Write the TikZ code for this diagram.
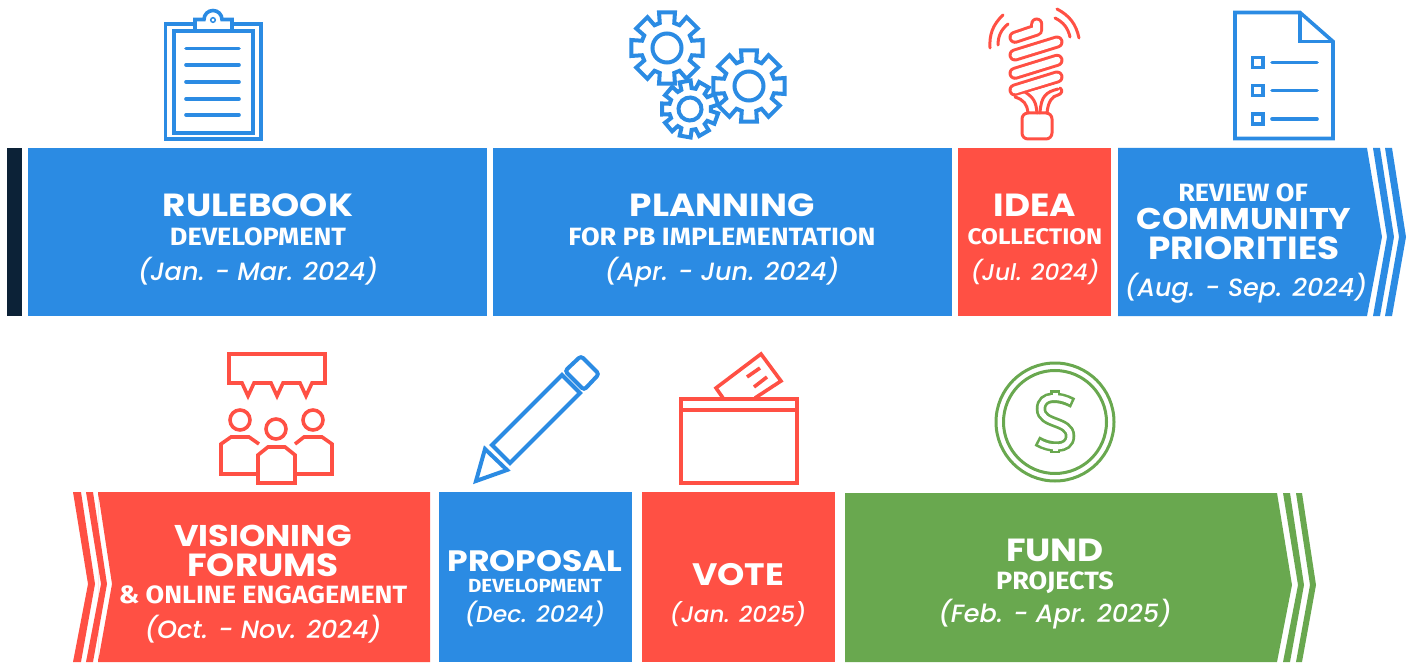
\documentclass[tikz,border=0pt]{standalone}
\usepackage{fontspec}
\setmainfont[FakeStretch=1.12]{Poppins}
\newfontfamily\subfont[FakeStretch=1.08]{Fira Sans}
\newfontfamily\datefont[FakeStretch=1.02]{Poppins Medium Italic}
\definecolor{barBlue}{HTML}{2B8BE3}
\definecolor{barRed}{HTML}{FF5044}
\definecolor{barGreen}{HTML}{69A84F}
\definecolor{barDark}{HTML}{0C2237}
\tikzset{
	titletext/.style = {anchor = base, inner sep = 0, text = white, font = \fontsize{#1}{#1}\selectfont\bfseries},
	titletext/.default = 32,
	subtext/.style = {anchor = base, inner sep = 0, text = white, font = \fontsize{#1}{#1}\selectfont\subfont\bfseries},
	subtext/.default = 25,
	datetext/.style = {anchor = base, inner sep = 0, text = white, font = \fontsize{#1}{#1}\selectfont\datefont},
	datetext/.default = 25,
	iconline/.style = {line width = 3.6pt, miter limit = 10},
	capsule/.style = {line cap = round, line join = round},
}
% one cog, centred on the current origin: #1 teeth, #2 outer, #3 root, #4 hole
\newcommand{\cogicon}[4]{
	\pgfmathsetmacro{\cogStep}{360/#1}
	\pgfmathsetmacro{\cogHalf}{\cogStep*0.36}
	\pgfmathsetmacro{\cogTop}{\cogStep*0.28}
	\filldraw [fill = white] (-\cogHalf:#3)
		\foreach \k in {1,...,#1} {
			-- ({(\k-1)*\cogStep-\cogTop}:#2) -- ({(\k-1)*\cogStep+\cogTop}:#2)
			-- ({(\k-1)*\cogStep+\cogHalf}:#3) -- ({\k*\cogStep-\cogHalf}:#3)
		} -- cycle;
	\draw (0,0) circle (#4);
}
\begin{document}
\begin{tikzpicture}[x = 1pt, y = -1pt]
	\useasboundingbox (0,0) rectangle (1409,663);

	% top row
	\begin{scope}
		\fill [barDark] (7,148) rectangle (22,316);
		\fill [barBlue] (28,148) rectangle (487,316);
		\fill [barBlue] (493,148) rectangle (952,316);
		\fill [barRed] (958,148) rectangle (1111,316);
		\fill [barBlue] (1118,148) -- (1367,148) -- (1382,237) -- (1367,316) -- (1118,316) -- cycle;
		\fill [barBlue] (1373,148) -- (1380,148) -- (1394,237) -- (1380,316) -- (1373,316) -- (1387,237) -- cycle;
		\fill [barBlue] (1385,148) -- (1392,148) -- (1406,237) -- (1392,316) -- (1385,316) -- (1399,237) -- cycle;
	\end{scope}

	% bottom row
	\begin{scope}
		\fill [barRed] (430,492) rectangle (98,662) -- (112,584) -- (98,492) -- cycle;
		\fill [barRed] (86,492) -- (93,492) -- (107,584) -- (93,662) -- (86,662) -- (101,584) -- cycle;
		\fill [barRed] (73,492) -- (81,492) -- (95,584) -- (81,662) -- (73,662) -- (88,584) -- cycle;
		\fill [barBlue] (439,492) rectangle (632,662);
		\fill [barRed] (642,492) rectangle (835,662);
		\fill [barGreen] (845,493) -- (1277,493) -- (1292,585) -- (1277,662) -- (845,662) -- cycle;
		\fill [barGreen] (1283,493) -- (1290,493) -- (1304,585) -- (1290,662) -- (1283,662) -- (1298,585) -- cycle;
		\fill [barGreen] (1296,493) -- (1302,493) -- (1316,585) -- (1302,662) -- (1296,662) -- (1310,585) -- cycle;
	\end{scope}

	\node [titletext] (rulebookTitle) at (258,217) {RULEBOOK};
	\node [subtext] (rulebookSub) at (258,246) {DEVELOPMENT};
	\node [datetext] (rulebookDate) at (258,280) {(Jan. - Mar. 2024)};

	\node [titletext] (planningTitle) at (722,217) {PLANNING};
	\node [subtext] (planningSub) at (722,246) {FOR PB IMPLEMENTATION};
	\node [datetext] (planningDate) at (722,280) {(Apr. - Jun. 2024)};

	\node [titletext] (ideaTitle) at (1035,217) {IDEA};
	\node [subtext = 22.5] (ideaSub) at (1035,245) {COLLECTION};
	\node [datetext = 22.8] (ideaDate) at (1035,280) {(Jul. 2024)};

	\node [subtext] (reviewSub) at (1243,202) {REVIEW OF};
	\node [titletext = 30] (reviewTitleA) at (1244,230) {COMMUNITY};
	\node [titletext] (reviewTitleB) at (1244,260) {PRIORITIES};
	\node [datetext] (reviewDate) at (1246,297) {(Aug. - Sep. 2024)};

	\node [titletext = 30] (forumTitleA) at (263,546) {VISIONING};
	\node [titletext] (forumTitleB) at (263,576) {FORUMS};
	\node [subtext] (forumSub) at (263,603) {\& ONLINE ENGAGEMENT};
	\node [datetext] (forumDate) at (263,638) {(Oct. - Nov. 2024)};

	\node [titletext = 29.5] (proposalTitle) at (535,571) {PROPOSAL};
	\node [subtext = 19] (proposalSub) at (535,592) {DEVELOPMENT};
	\node [datetext = 23] (proposalDate) at (535,622) {(Dec. 2024)};

	\node [titletext = 31] (voteTitle) at (738,585) {VOTE};
	\node [datetext = 22.5] (voteDate) at (738,622) {(Jan. 2025)};

	\node [titletext] (fundTitle) at (1055,561) {FUND};
	\node [subtext] (fundSub) at (1055,589) {PROJECTS};
	\node [datetext] (fundDate) at (1055,622) {(Feb. - Apr. 2025)};

	% clipboard
	\begin{scope}[barBlue, iconline]
		\draw (194,24) -- (165.5,24) -- (165.5,139) -- (261,139) -- (261,24) -- (233,24);
		\draw (174,31) rectangle (253,133);
		\draw (195,30) -- (195,19.5) -- (204,19.5) arc (180:360:9) -- (232,19.5) -- (232,30);
		\draw [line width = 1.5pt] (213,20) circle (2.3);
		\foreach \yy in {48.5,65,82,99,115} {
			\draw [line cap = round] (186,\yy) -- (239,\yy);
		}
	\end{scope}

	% cogs
	\begin{scope}[barBlue, iconline, line width = 4pt]
		\begin{scope}[shift = {(667,48)}, rotate = 0]
			\cogicon{8}{36.5}{26}{14.5}
		\end{scope}
		\begin{scope}[shift = {(749,86)}, rotate = 0]
			\cogicon{8}{36.5}{26}{14.5}
		\end{scope}
		\begin{scope}[shift = {(690,109)}, rotate = 20]
			\cogicon{9}{28.5}{21}{11.5}
		\end{scope}
	\end{scope}

	% bulb
	\begin{scope}[barRed, capsule, line width = 3pt]
		\draw (1003,15) to [bend right = 25] (990,48);
		\draw (1008,24) to [bend right = 25] (998,45);
		\draw (1057,9) to [bend left = 25] (1079,38);
		\draw (1055,18) to [bend left = 25] (1070,37);
		\foreach \yy in {90,73.3,55} {
			\draw [line width = 13pt] (1015,\yy) -- (1057,\yy-13);
			\draw [white, line width = 7pt] (1015,\yy) -- (1057,\yy-13);
		}
		\draw [line width = 13pt] (1015,37.3) -- (1036.7,30) -- (1036.7,24);
		\draw [white, line width = 7pt] (1015,37.3) -- (1036.7,30) -- (1036.7,24);
		\draw [white, fill = white, line width = 1pt] (1014,97) -- (1056,85) -- (1060,112) -- (1028,112) -- cycle;
		\draw (1015,97) .. controls (1024,100) and (1027,104) .. (1028,113);
		\draw (1025,92) .. controls (1034,98) and (1036,102) .. (1037,113);
		\draw (1040,113) .. controls (1041,96) and (1046,92) .. (1058,89);
		\draw (1047,113) .. controls (1048,102) and (1052,96) .. (1058,95) .. controls (1062,94) and (1063,90) .. (1060,88);
		\draw [rounded corners = 6pt] (1022,113) -- (1022,139) -- (1052,139) -- (1052,113) -- cycle;
	\end{scope}

	% checklist
	\begin{scope}[barBlue, iconline]
		\draw (1300,12.5) -- (1235,12.5) -- (1235,138.5) -- (1333,138.5) -- (1333,41.5) -- cycle;
		\draw (1300,12.5) -- (1300,41.5) -- (1333,41.5);
		\foreach \yy in {62.5,90.5,119} {
			\draw (1252.5,\yy-5) rectangle (1263,\yy+5);
			\draw [line cap = round] (1272,\yy) -- (1317,\yy);
		}
	\end{scope}

	% speech bubble and people
	\begin{scope}[barRed, iconline]
		\draw (229,354) -- (325,354) -- (325,383) -- (312,383) -- (306,396) -- (300,383) -- (283,383) -- (277,396) -- (271,383) -- (254,383) -- (248,396) -- (242,383) -- (229,383) -- cycle;
		\draw (240,420) circle (10);
		\draw (276,429) circle (10);
		\draw (313,420) circle (10);
		\draw (258,474) -- (221,474) -- (221,444) -- (231,437) -- (249,437) -- (259,444);
		\draw (295,474) -- (332,474) -- (332,444) -- (322,437) -- (304,437) -- (295,444);
		\draw (258,483) -- (258,455) -- (268,447) -- (285,447) -- (295,455) -- (295,483) -- cycle;
	\end{scope}

	% pencil
	\begin{scope}[barBlue, iconline, line width = 4pt]
		\draw (562,375) -- (580,393) -- (510,463) -- (492,445) -- cycle;
		\draw [rounded corners = 3pt] (565,371) -- (581,356) -- (599,374) -- (584,390) -- cycle;
		\draw (485,449) -- (507,470) -- (476,481) -- cycle;
	\end{scope}

	% ballot box
	\begin{scope}[barRed, iconline]
		\draw (681,399) rectangle (797,483);
		\draw (681,410) -- (797,410);
		\draw (723,398) -- (716,388) -- (761,354) -- (781,381) -- (755,398);
		\draw (747,377) -- (760,368);
		\draw (754,387) -- (767,377);
	\end{scope}

	% coin
	\begin{scope}[barGreen, line width = 3pt]
		\draw (1055,422) circle (59);
		\draw (1055,422) circle (51.5);
		\draw [line width = 10pt] (1055,390) -- (1055,400) (1055,444) -- (1055,453);
		\draw [line width = 10.5pt] (1073,403) .. controls (1060,396) and (1041,394) .. (1041,409) .. controls (1041,425) and (1070,420) .. (1070,436) .. controls (1070,451) and (1048,448) .. (1037,441);
		\draw [white, line width = 5pt] (1055,392.5) -- (1055,400) (1055,444) -- (1055,450.5);
		\draw [white, line width = 5pt] (1070.7,401.8) .. controls (1060,396) and (1041,394) .. (1041,409) .. controls (1041,425) and (1070,420) .. (1070,436) .. controls (1070,451) and (1048,448) .. (1039.3,442.3);
	\end{scope}
\end{tikzpicture}
\end{document}
